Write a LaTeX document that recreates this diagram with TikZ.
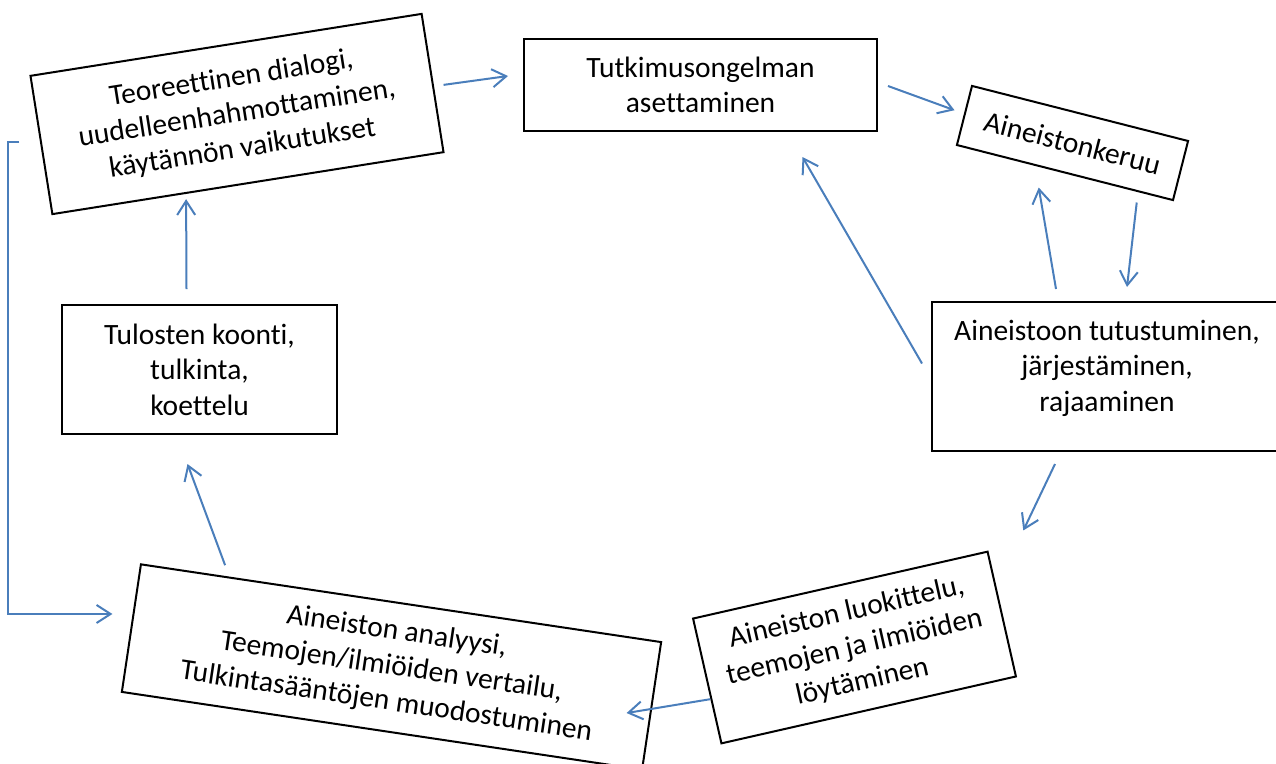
\documentclass[tikz,border=0pt]{standalone}
\usepackage{fontspec}
\setmainfont{Carlito}[Ligatures={NoCommon}]
\usepackage{tikz}
\usetikzlibrary{calc,arrows.meta,positioning}

\definecolor{nuolensininen}{RGB}{74,126,187}

\begin{document}
\begin{tikzpicture}[x=1pt, y=-1pt,
  font=\fontsize{29.5}{35.5}\selectfont,
  >={Straight Barb[length=14pt,width=18pt]},
  laatikko/.style={draw, line width=2pt, inner sep=0pt, align=center},
  nuoli/.style={->, draw=nuolensininen, line width=2pt}]
  \useasboundingbox (0,0) rectangle (1276,763);

  \node (DIALOGI) [laatikko, rotate=9, minimum width=396pt, minimum height=140pt] at (237,114)
    {Teoreettinen dialogi,\\ uudelleenhahmottaminen,\\ käytännön vaikutukset};
  \node (ONGELMA) [laatikko, minimum width=353pt, minimum height=92pt] at (700.5,85)
    {Tutkimusongelman\\ asettaminen};
  \node (KERUU) [laatikko, rotate=-14.3, minimum width=223pt, minimum height=61pt] at (1072.5,143)
    {Aineistonkeruu};
  \node (TUTUSTUMINEN) [laatikko, minimum width=350pt, minimum height=149pt] at (1107,376.5)
    {Aineistoon tutustuminen,\\ järjestäminen,\\ rajaaminen\\[-14pt]};
  \node (LUOKITTELU) [laatikko, rotate=12.8, minimum width=302pt, minimum height=128pt] at (854.5,647.5)
    {Aineiston luokittelu,\\ teemojen ja ilmiöiden\\ löytäminen};
  \node (ANALYYSI) [laatikko, rotate=-8.5, minimum width=526pt, minimum height=129pt] at (391.5,667)
    {Aineiston analyysi,\\ Teemojen/ilmiöiden vertailu,\\ Tulkintasääntöjen muodostuminen};
  \node (TULOKSET) [laatikko, minimum width=275pt, minimum height=129pt] at (199.5,369.5)
    {Tulosten koonti,\\ tulkinta,\\ koettelu};

  % kierron nuolet
  \draw[nuoli] ($(DIALOGI.east)+(10,2)$) -- ($(ONGELMA.west)+(-15,-9)$);
  \draw[nuoli] ($(ONGELMA.east)+(10,1)$) -- ($(KERUU.west)+(-9,-5)$);
  \draw[nuoli] ($(TUTUSTUMINEN.north)+(-51,-12)$) -- ($(KERUU.south)+(-26,14)$);
  \draw[nuoli] ($(KERUU.south)+(72,29)$) -- ($(TUTUSTUMINEN.north)+(20,-14)$);
  \draw[nuoli] ($(TUTUSTUMINEN.west)+(-9,-13)$) -- ($(ONGELMA.south)+(102,25)$);
  \draw[nuoli] ($(TUTUSTUMINEN.south)+(-52,12)$) -- ($(LUOKITTELU.north east)+(35,-20)$);
  \draw[nuoli] ($(LUOKITTELU.west)+(4,18)$) -- ($(ANALYYSI.east)+(-26,7)$);
  \draw[nuoli] ($(ANALYYSI.north west)+(85,2)$) -- ($(TULOKSET.south)+(-12,29)$);
  \draw[nuoli] ($(TULOKSET.north)+(-13,-15)$) -- ($(DIALOGI.south)+(-62,15)$);
  % paluu vasenta reunaa pitkin
  \draw[nuoli] ($(DIALOGI.west)+(-21,-3)$) -- ++(-11,0) |- ($(ANALYYSI.west)+(-18,-14)$);
\end{tikzpicture}
\end{document}
